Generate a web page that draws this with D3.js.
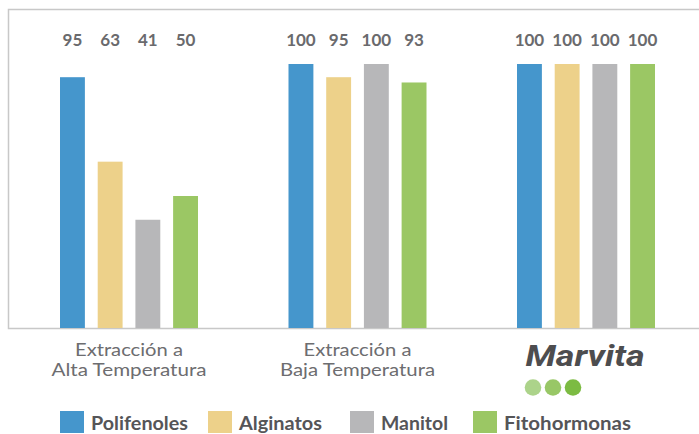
<!DOCTYPE html>
<html><head><meta charset="utf-8">
<script src="https://cdn.jsdelivr.net/npm/d3@7"></script>
<style>body{margin:0;background:#fff}svg{display:block}</style>
</head><body>
<svg id="c" width="699" height="434"></svg>
<script>
const groups = ["Extracción a\nAlta Temperatura", "Extracción a\nBaja Temperatura", "Marvita"];
const series = ["Polifenoles", "Alginatos", "Manitol", "Fitohormonas"];
const colors = ["#4596cc", "#edd18a", "#b7b7b9", "#9bc764"];
const polifenoles = [95, 100, 100];
const alginatos = [63, 95, 100];
const manitol = [41, 100, 100];
const fitohormonas = [50, 93, 100];
const values = [polifenoles, alginatos, manitol, fitohormonas];
const logoDots = ["#acd38a", "#98c766", "#7cbb42"];

const svg = d3.select("#c");
const x0 = d3.scalePoint().domain(groups).range([129, 586]);
const x1 = d3.scaleBand().domain(series).range([-69, 69]).paddingInner(0.34).paddingOuter(0);
const y = d3.scaleLinear().domain([0, 100]).range([328, 64]);

// frame
svg.append("path").attr("d", "M699,9.5H8.5V328.5H699").attr("fill", "none")
  .attr("stroke", "#c8c8c8").attr("stroke-width", 1.5);

const data = [];
groups.forEach((g, gi) => series.forEach((s, si) => data.push({g, s, si, v: values[si][gi]})));

svg.selectAll("rect.bar").data(data).join("rect").attr("class", "bar")
  .attr("x", d => x0(d.g) + x1(d.s))
  .attr("y", d => y(d.v))
  .attr("width", x1.bandwidth())
  .attr("height", d => y(0) - y(d.v))
  .attr("fill", d => colors[d.si]);

svg.selectAll("text.val").data(data).join("text").attr("class", "val")
  .attr("x", d => x0(d.g) + x1(d.s) + x1.bandwidth() / 2)
  .attr("y", 46)
  .attr("text-anchor", "middle")
  .attr("font-family", "Lato, sans-serif").attr("font-weight", "bold")
  .attr("font-size", 17).attr("fill", "#6a6a6d")
  .text(d => d.v);

// category labels
const lineWidths = [108, 155];
groups.slice(0, 2).forEach(g => {
  const lines = g.split("\n");
  lines.forEach((l, i) => svg.append("text").attr("text-anchor", "middle")
    .attr("font-family", "Lato, sans-serif").attr("font-size", 17.5).attr("fill", "#6d6d70")
    .attr("x", x0(g)).attr("y", 356 + i * 20)
    .attr("textLength", lineWidths[i]).attr("lengthAdjust", "spacingAndGlyphs").text(l));
});

// Marvita logo
const mg = groups[2];
svg.append("text").attr("x", x0(mg) - 1).attr("y", 366).attr("text-anchor", "middle")
  .attr("font-family", "Roboto, sans-serif").attr("font-weight", "bold").attr("font-style", "italic")
  .attr("font-size", 30).attr("fill", "#4d4d4f").attr("textLength", 119).attr("lengthAdjust", "spacingAndGlyphs")
  .text(mg);
svg.selectAll("circle.dot").data(logoDots).join("circle").attr("class", "dot")
  .attr("cx", (d, i) => x0(mg) - 53 + i * 20).attr("cy", 387.5).attr("r", 8.3).attr("fill", d => d);

// legend
const legX = [60, 208, 350, 473];
const legW = [97, 83, 67, 127];
series.forEach((s, i) => {
  svg.append("rect").attr("x", legX[i]).attr("y", 411).attr("width", 24).attr("height", 22).attr("fill", colors[i]);
  svg.append("text").attr("x", legX[i] + 31).attr("y", 430)
    .attr("font-family", "Lato, sans-serif").attr("font-weight", "bold").attr("font-size", 19)
    .attr("textLength", legW[i]).attr("lengthAdjust", "spacingAndGlyphs")
    .attr("fill", "#555558").text(s);
});
</script>
</body></html>
